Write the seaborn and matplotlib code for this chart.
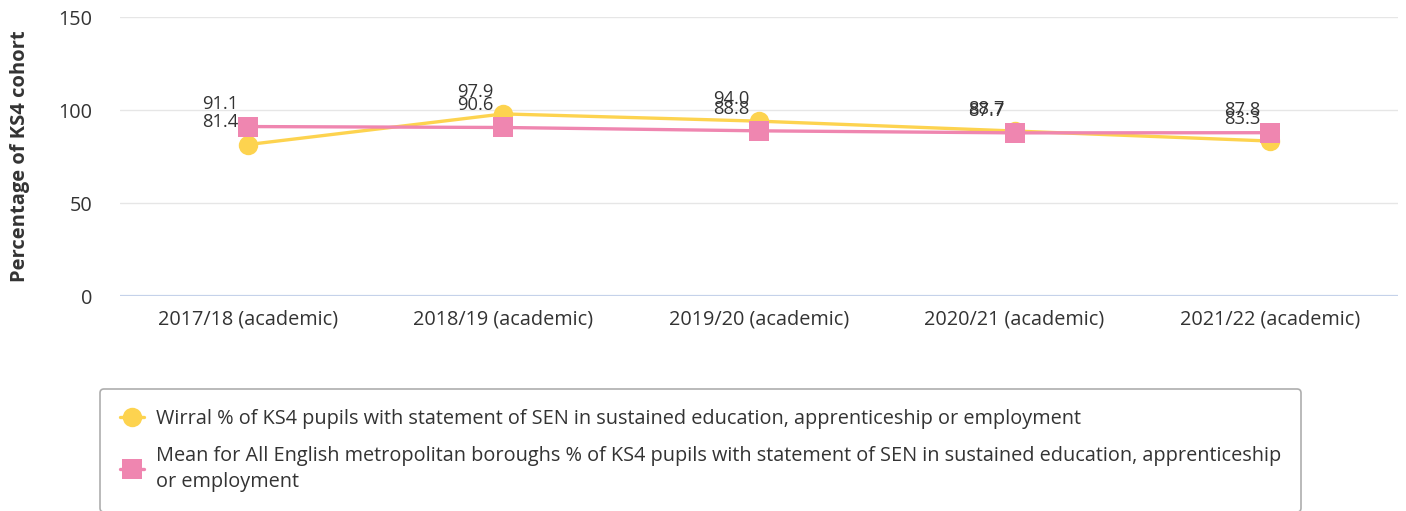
import matplotlib
matplotlib.use("Agg")
import matplotlib.pyplot as plt
import seaborn as sns
import pandas as pd

categorias = ["2017/18 (academic)", "2018/19 (academic)", "2019/20 (academic)",
              "2020/21 (academic)", "2021/22 (academic)"]
wirral = [81.4, 97.9, 94.0, 88.7, 83.3]
media = [91.1, 90.6, 88.8, 87.7, 87.8]
nome_wirral = "Wirral % of KS4 pupils with statement of SEN in sustained education, apprenticeship or employment"
nome_media = ("Mean for All English metropolitan boroughs % of KS4 pupils with statement of SEN in sustained education, apprenticeship\n"
              "or employment")

sns.set_theme(style="white")
plt.rcParams['font.family'] = ['Open Sans', 'DejaVu Sans']

df = pd.DataFrame({
    "ano": categorias * 2,
    "valor": wirral + media,
    "serie": [nome_wirral] * 5 + [nome_media] * 5,
})
df["x"] = list(range(5)) * 2

cores = {nome_wirral: "#FDD34F", nome_media: "#EF86B0"}
marcadores = {nome_wirral: "o", nome_media: "s"}

fig = plt.figure(figsize=(14.06, 5.11), dpi=100)
ax = fig.add_axes([120 / 1406, 1 - 296 / 511, 1278 / 1406, 279 / 511])

sns.lineplot(
    data=df, x="x", y="valor", hue="serie", style="serie",
    palette=cores, markers=marcadores, dashes=False,
    linewidth=2.4, markersize=14, markeredgewidth=0, ax=ax
)

ax.set_xlim(-0.5, 4.5)
ax.set_ylim(0, 150)
ax.set_yticks([0, 50, 100, 150])
ax.set_xticks(range(5))
ax.set_xticklabels(categorias)
ax.tick_params(axis="both", length=0, labelsize=14.3, colors="#333333")
ax.tick_params(axis="x", pad=10)
ax.tick_params(axis="y", pad=20)
ax.grid(axis="y", color="#e6e6e6", linewidth=1)
ax.axhline(0, color="#c5d2ea", linewidth=1.6, zorder=1)
for s in ax.spines.values():
    s.set_visible(False)
ax.set_xlabel("")
ax.set_ylabel("Percentage of KS4 cohort", fontsize=14.5, fontweight="bold",
              color="#333333", labelpad=20)

# rótulos dos valores
for serie, valores in [(nome_wirral, wirral), (nome_media, media)]:
    for i, v in enumerate(valores):
        ax.annotate(f"{v:.1f}", (i, v), xytext=(-7, 16), textcoords="offset points",
                    ha="right", va="center", fontsize=13.2, color="#333333")

handles, labels = ax.get_legend_handles_labels()
ax.legend_.remove()
leg = fig.legend(
    handles, labels, loc="upper left",
    bbox_to_anchor=(100 / 1406, 1 - 389 / 511), borderaxespad=0,
    fontsize=14.3, frameon=True, fancybox=True, edgecolor="#999999",
    handlelength=1.2, handletextpad=0.6, borderpad=1.0, labelspacing=0.85,
)
leg.get_frame().set_linewidth(1.2)
for t in leg.get_texts():
    t.set_color("#333333")
    t.set_linespacing(1.4)

plt.savefig("out.png", dpi=100)
plt.close()
